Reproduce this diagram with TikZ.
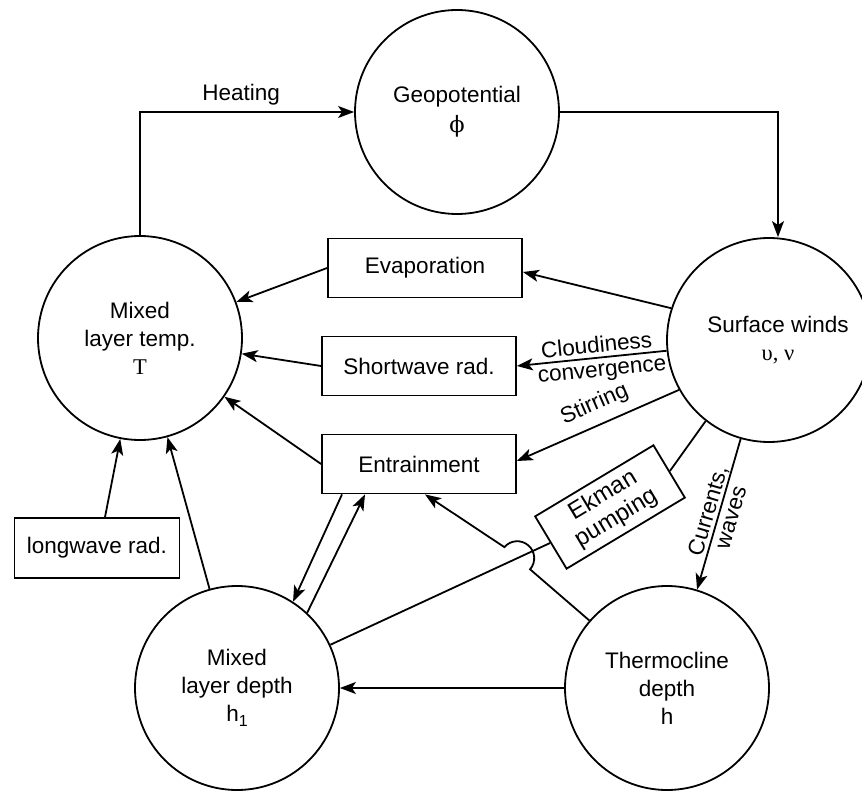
\documentclass[tikz,border=0pt]{standalone}
\usepackage{fontspec}
\setmainfont{Liberation Sans}
\newfontfamily\serifgr{Liberation Serif}
\newfontfamily\phifont{DejaVu Serif}
\usetikzlibrary{arrows.meta,calc}
\begin{document}
\begin{tikzpicture}[x=1pt,y=-1pt,
  every node/.style={font=\fontsize{22.5}{28}\selectfont},
  circ/.style={draw, circle, line width=1.8pt, minimum size=204pt, inner sep=0pt, align=center},
  box/.style={draw, rectangle, line width=1.8pt, minimum width=194pt, minimum height=59pt, inner sep=2pt, align=center},
  conn/.style={line width=1.8pt},
  arr/.style={conn, -{Stealth[length=16pt,width=12pt,inset=4pt]}},
  lbl/.style={inner sep=1pt}
]
\useasboundingbox (0,0) rectangle (862,791);

% circles
\node[circ] (geo) at (457,112) {Geopotential\\[2pt]{\phifont ϕ}};
\node[circ] (mlt) at (140,338) {Mixed\\layer temp.\\{\serifgr T}};
\node[circ, label={[align=center, xshift=9pt]center:{Surface winds\\{\serifgr υ, ν}}}] (sw) at (769,340) {};
\node[circ] (mld) at (237,688) {Mixed\\layer depth\\h\raisebox{-5pt}{\fontsize{16}{16}\selectfont 1}};
\node[circ] (th) at (667,688) {Thermocline\\depth\\h};

% boxes
\node[box] (evap) at (425,268) {Evaporation};
\node[box] (short) at (419,366) {Shortwave rad.};
\node[box] (entr) at (419,464) {Entrainment};
\node[box, minimum width=165pt, minimum height=60pt] (long) at (97,548) {longwave rad.};
\node[box, minimum width=138pt, minimum height=61pt, rotate=31, inner sep=1pt, font=\fontsize{24}{26}\selectfont] (ekman) at (610,507) {Ekman\\pumping};

% connectors
\draw[arr] (mlt.north) |- node[lbl, pos=0.736, yshift=17pt]{Heating} (geo.west);
\draw[arr] (geo.east) -| ([xshift=9pt]sw.north);

\draw[arr] (evap.west) -- (mlt);
\draw[arr] (short.west) -- (mlt);
\draw[arr] (entr.west) -- (mlt);
\draw[arr] ([xshift=8pt]long.north) -- (mlt);
\draw[arr] (mld) -- (mlt);

\draw[arr] (sw.162) -- ([yshift=-4pt]evap.east);
\draw[arr] (sw.186) -- node[lbl, sloped, above=3pt, pos=0.46]{Cloudiness}
                       node[lbl, sloped, below=5pt, pos=0.44]{convergence} (short.east);
\draw[arr] (sw.209) -- node[lbl, sloped, above=8pt, pos=0.47]{Stirring} ([yshift=3pt]entr.east);

\draw[conn] (sw.232) -- (ekman.east);
\draw[conn] (ekman.west) -- (mld);
\coordinate (X) at ($(ekman.west)!0.105!(mld.center)$);
\draw[arr] let \p1=($(th.139)-(X)$), \n1={atan2(\y1,\x1)} in
  (th.139) -- ($(X)!17pt!(th.139)$) arc[start angle=\n1, delta angle=180, radius=17pt]
  -- ([xshift=6pt]entr.south);

\draw[arr] (sw.254) -- node[lbl, sloped, align=center, pos=0.5, font=\fontsize{22.5}{24}\selectfont]{Currents,\\waves} (th.73);

\draw[arr] ([xshift=-77pt]entr.south) -- (mld.57);
\draw[arr] (mld.47) -- ([xshift=-54pt]entr.south);
\draw[arr] (th) -- (mld);
\end{tikzpicture}
\end{document}
